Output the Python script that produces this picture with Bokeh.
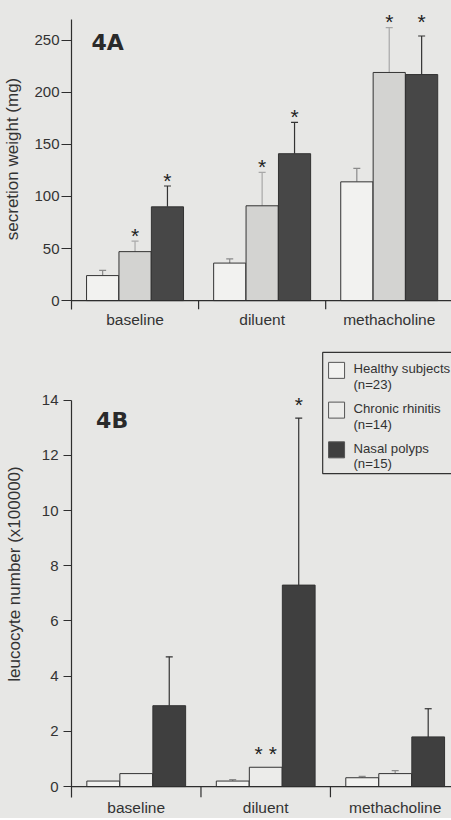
from bokeh.plotting import figure
from bokeh.models import ColumnDataSource, Whisker, TeeHead, Span, Label, FixedTicker, Range1d
from bokeh.layouts import column
from bokeh.core.properties import value
from bokeh.embed import file_html
from bokeh.resources import INLINE

# ---------------- data ----------------
categories = ["baseline", "diluent", "methacholine"]
groups = ["Healthy subjects", "Chronic rhinitis", "Nasal polyps"]
group_n = ["(n=23)", "(n=14)", "(n=15)"]

# 4A secretion weight (mg): means and upper error ends
sec_healthy = [24, 36, 114]
sec_chronic = [47, 91, 219]
sec_polyps = [90, 141, 217]
sec_healthy_err = [29, 40, 127]
sec_chronic_err = [57, 123, 262]
sec_polyps_err = [110, 171, 254]

# 4B leucocyte number (x100000)
leu_healthy = [0.2, 0.2, 0.32]
leu_chronic = [0.47, 0.7, 0.47]
leu_polyps = [2.93, 7.3, 1.8]
leu_healthy_err = [0.2, 0.25, 0.37]
leu_chronic_err = [0.47, 0.7, 0.58]
leu_polyps_err = [4.7, 13.35, 2.82]

# significance markers: category index, group index, level, text
sigA_cat = [0, 0, 1, 1, 2, 2]
sigA_grp = [1, 2, 1, 2, 1, 2]
sigA_lvl = [57, 110, 123, 171, 262, 262]
sigA_txt = ["*", "*", "*", "*", "*", "*"]

sigB_cat = [1, 1]
sigB_grp = [1, 2]
sigB_lvl = [0.7, 13.35]
sigB_txt = ["* *", "*"]

yticksA = [0, 50, 100, 150, 200, 250]
yticksB = [0, 2, 4, 6, 8, 10, 12, 14]

# ---------------- style ----------------
BG = "#e7e7e5"
INK = "#2e2e2e"
FONT = "Liberation Sans"
OFFS = [-0.255, 0.0, 0.255]
BW = 0.253


def base_fig(height, ylo, yhi, xhi, left, top, ylabel, yticks, tick_out, tick_standoff, lab_standoff, axis_top):
    p = figure(width=451, height=height, output_backend="svg", toolbar_location=None,
               x_range=Range1d(0, xhi), y_range=Range1d(ylo, yhi),
               min_border_left=left, min_border_right=0, min_border_top=top, min_border_bottom=18)
    p.background_fill_color = BG
    p.border_fill_color = BG
    p.outline_line_color = None
    p.grid.visible = False
    ya = p.yaxis[0]
    ya.ticker = FixedTicker(ticks=yticks)
    ya.bounds = (ylo, axis_top)
    ya.major_tick_out = tick_out
    ya.major_tick_in = 0
    ya.minor_tick_line_color = None
    ya.axis_line_color = INK
    ya.axis_line_width = 1.2
    ya.major_tick_line_color = INK
    ya.major_tick_line_width = 1.2
    ya.major_label_text_font = FONT
    ya.major_label_text_font_size = "15px"
    ya.major_label_text_color = "#333333"
    ya.major_label_standoff = tick_standoff
    ya.axis_label = ylabel
    ya.axis_label_text_font = FONT
    ya.axis_label_text_font_size = "17px"
    ya.axis_label_text_font_style = "normal"
    ya.axis_label_text_color = "#333333"
    ya.axis_label_standoff = lab_standoff
    xa = p.xaxis[0]
    xa.ticker = FixedTicker(ticks=[i + 0.5 for i in range(len(categories))])
    xa.major_label_overrides = {i + 0.5: c for i, c in enumerate(categories)}
    xa.major_tick_out = 0
    xa.major_tick_in = 0
    xa.minor_tick_line_color = None
    xa.axis_line_color = None
    xa.major_label_text_font = FONT
    xa.major_label_text_font_size = "15.5px"
    xa.major_label_text_color = "#333333"
    xa.major_label_standoff = 1
    # baseline at zero and category separators
    p.add_layout(Span(location=0, dimension="width", line_color=INK, line_width=1.2))
    seps = list(range(1, len(categories)))
    p.segment(x0=seps, y0=[0] * len(seps), x1=seps, y1=[ylo] * len(seps), line_color=INK, line_width=1.2)
    return p


def draw_bars(p, means, errs, fills, err_colors):
    for g, (m, e, fc, ec) in enumerate(zip(means, errs, fills, err_colors)):
        xs = [i + 0.5 + OFFS[g] for i in range(len(categories))]
        p.vbar(x=xs, top=m, bottom=0, width=BW, fill_color=fc, line_color="#333333", line_width=1)
        wx = [x for x, mm, ee in zip(xs, m, e) if ee > mm]
        wl = [mm for mm, ee in zip(m, e) if ee > mm]
        wu = [ee for mm, ee in zip(m, e) if ee > mm]
        if wx:
            src = ColumnDataSource(dict(x=wx, lower=wl, upper=wu))
            p.add_layout(Whisker(source=src, base="x", lower="lower", upper="upper", dimension="height",
                                 line_color=ec, line_width=1.2,
                                 upper_head=TeeHead(size=7, line_color=ec, line_width=1.2),
                                 lower_head=None))


def draw_sig(p, cats, grps, lvls, txts, size, yoff):
    xs = [c + 0.5 + OFFS[g] for c, g in zip(cats, grps)]
    p.text(x=xs, y=lvls, text=txts, text_align="center", text_baseline="alphabetic",
           text_font=value(FONT), text_font_size=size, text_color="#222222", y_offset=yoff)


# ---------------- 4A ----------------
pA = base_fig(330, -8.56, 280.4, 2.99, 70, 8, "secretion weight (mg)", yticksA, 10, 2, 9, 270)
draw_bars(pA, [sec_healthy, sec_chronic, sec_polyps], [sec_healthy_err, sec_chronic_err, sec_polyps_err],
          ["#f2f2f0", "#d3d3d1", "#474747"], ["#8a8a8a", "#a8a8a8", "#333333"])
draw_sig(pA, sigA_cat, sigA_grp, sigA_lvl, sigA_txt, "21px", -6)
pA.add_layout(Label(x=0.157, y=248, text="4A", text_font="DejaVu Sans", text_font_style="bold",
                    text_font_size="22px", text_color="#2a2a2a", text_baseline="alphabetic"))

# ---------------- 4B ----------------
pB = base_fig(488, -0.396, 15.8, 2.935, 68, 20, "leucocyte number (x100000)", yticksB, 8, 5, 15, 14)

# legend (placed in 4B data space) - drawn first so bars/labels are not hidden
ppu = 27.78  # px per unit on 4B's y scale
pxu = 130.5  # px per unit on 4B's x scale
leg_left = 1.94
leg_top = 15.73
leg_bottom = 11.34
pB.quad(left=[leg_left], right=[3.5], top=[leg_top], bottom=[leg_bottom],
        fill_color=BG, line_color="#333333", line_width=1.2)
sw_fills = ["#f2f2f0", "#ececea", "#3f3f3f"]
sw_y = [15.08 - i * 40 / ppu for i in range(len(groups))]
sw_x = leg_left + 14 / pxu
pB.rect(x=[sw_x] * len(groups), y=sw_y, width=16, height=16, width_units="screen", height_units="screen",
        fill_color=sw_fills, line_color="#555555", line_width=1)
tx = leg_left + 31 / pxu
pB.text(x=[tx] * len(groups), y=[y + 1.5 / ppu for y in sw_y], text=groups, text_baseline="middle",
        text_font=value(FONT), text_font_size="13.2px", text_color="#333333")
pB.text(x=[tx] * len(groups), y=[y - 14 / ppu for y in sw_y], text=group_n, text_baseline="middle",
        text_font=value(FONT), text_font_size="13.2px", text_color="#333333")

draw_bars(pB, [leu_healthy, leu_chronic, leu_polyps], [leu_healthy_err, leu_chronic_err, leu_polyps_err],
          ["#f2f2f0", "#ececea", "#3f3f3f"], ["#8a8a8a", "#8a8a8a", "#333333"])
draw_sig(pB, sigB_cat, sigB_grp, sigB_lvl, sigB_txt, "21px", -14)
pB.add_layout(Label(x=0.19, y=13.28, text="4B", text_font="DejaVu Sans", text_font_style="bold",
                    text_font_size="22px", text_color="#2a2a2a", text_baseline="alphabetic"))

layout = column(pA, pB, styles={"background-color": BG})
open("out.html", "w").write(file_html(layout, INLINE))
